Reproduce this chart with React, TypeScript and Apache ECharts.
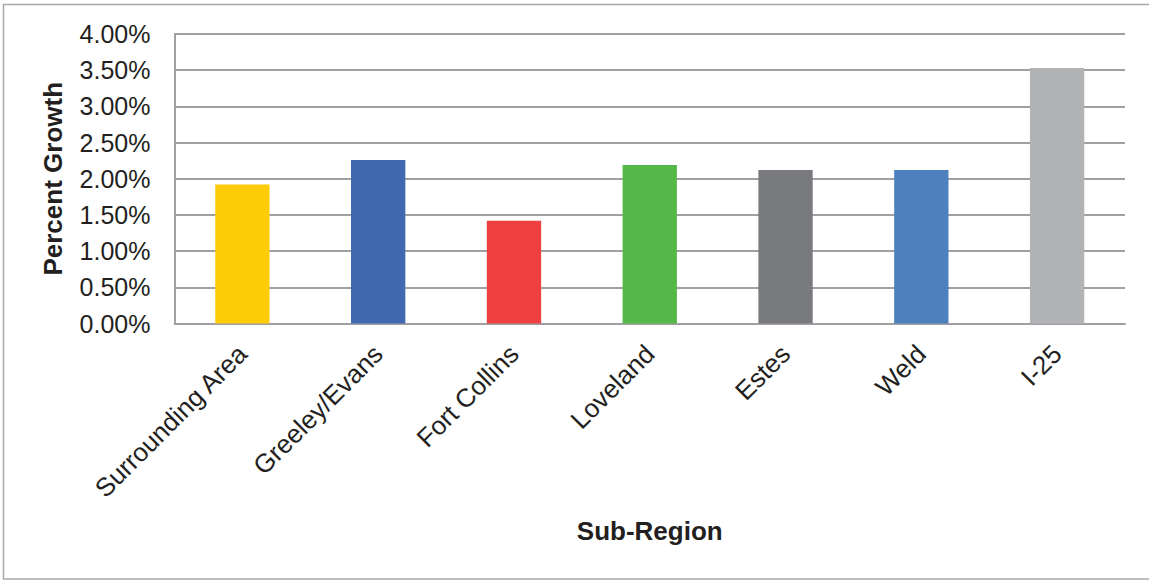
import React, { useEffect, useRef } from "react";
import * as echarts from "echarts";

const categories = ["Surrounding Area", "Greeley/Evans", "Fort Collins", "Loveland", "Estes", "Weld", "I-25"];
const growth = [0.0192, 0.0226, 0.0142, 0.0219, 0.0212, 0.0212, 0.0353];
const barColors = ["#FECC07", "#4169B0", "#EE4040", "#54B848", "#797A7E", "#4E80BD", "#B2B3B5"];

const FONT = "'Liberation Sans', Arial, sans-serif";

export default function App() {
  const ref = useRef<HTMLDivElement>(null);
  useEffect(() => {
    if (!ref.current) return;
    const chart = echarts.init(ref.current, null, { renderer: "svg" });
    chart.setOption({
      animation: false,
      backgroundColor: "#ffffff",
      textStyle: { fontFamily: FONT },
      graphic: [
        {
          type: "rect",
          shape: { x: 3.5, y: 4.5, width: 1170, height: 574.5 },
          style: { fill: "none", stroke: "#A8A8AA", lineWidth: 1.5 },
          silent: true,
        },
      ],
      grid: { left: 174.5, right: 24, top: 34, bottom: 256.5, containLabel: false },
      xAxis: {
        type: "category",
        data: categories,
        name: "Sub-Region",
        nameLocation: "middle",
        nameGap: 194,
        nameTextStyle: { fontFamily: FONT, fontSize: 26, fontWeight: "bold", color: "#231F20" },
        axisLine: { show: true, lineStyle: { color: "#A0A0A4", width: 2 } },
        axisTick: { show: false },
        axisLabel: {
          rotate: 45,
          interval: 0,
          margin: 26,
          fontFamily: FONT,
          fontSize: 26,
          color: "#231F20",
        },
      },
      yAxis: {
        type: "value",
        min: 0,
        max: 0.04,
        interval: 0.005,
        name: "Percent Growth",
        nameLocation: "middle",
        nameGap: 109,
        nameTextStyle: { fontFamily: FONT, fontSize: 26, fontWeight: "bold", color: "#231F20" },
        axisLine: { show: true, lineStyle: { color: "#A0A0A4", width: 2 } },
        axisTick: { show: false },
        splitLine: { show: true, lineStyle: { color: "#A0A0A4", width: 2 } },
        axisLabel: {
          margin: 24,
          fontFamily: FONT,
          fontSize: 25,
          color: "#231F20",
          formatter: (v: number) => (v * 100).toFixed(2) + "%",
        },
      },
      series: [
        {
          type: "bar",
          data: growth.map((v, i) => ({ value: v, itemStyle: { color: barColors[i] } })),
          barWidth: "40%",
        },
      ],
    });
    return () => chart.dispose();
  }, []);
  return (
    <div
      ref={ref}
      style={{ position: "absolute", left: 0, top: 0, width: 1149, height: 580 }}
    />
  );
}
